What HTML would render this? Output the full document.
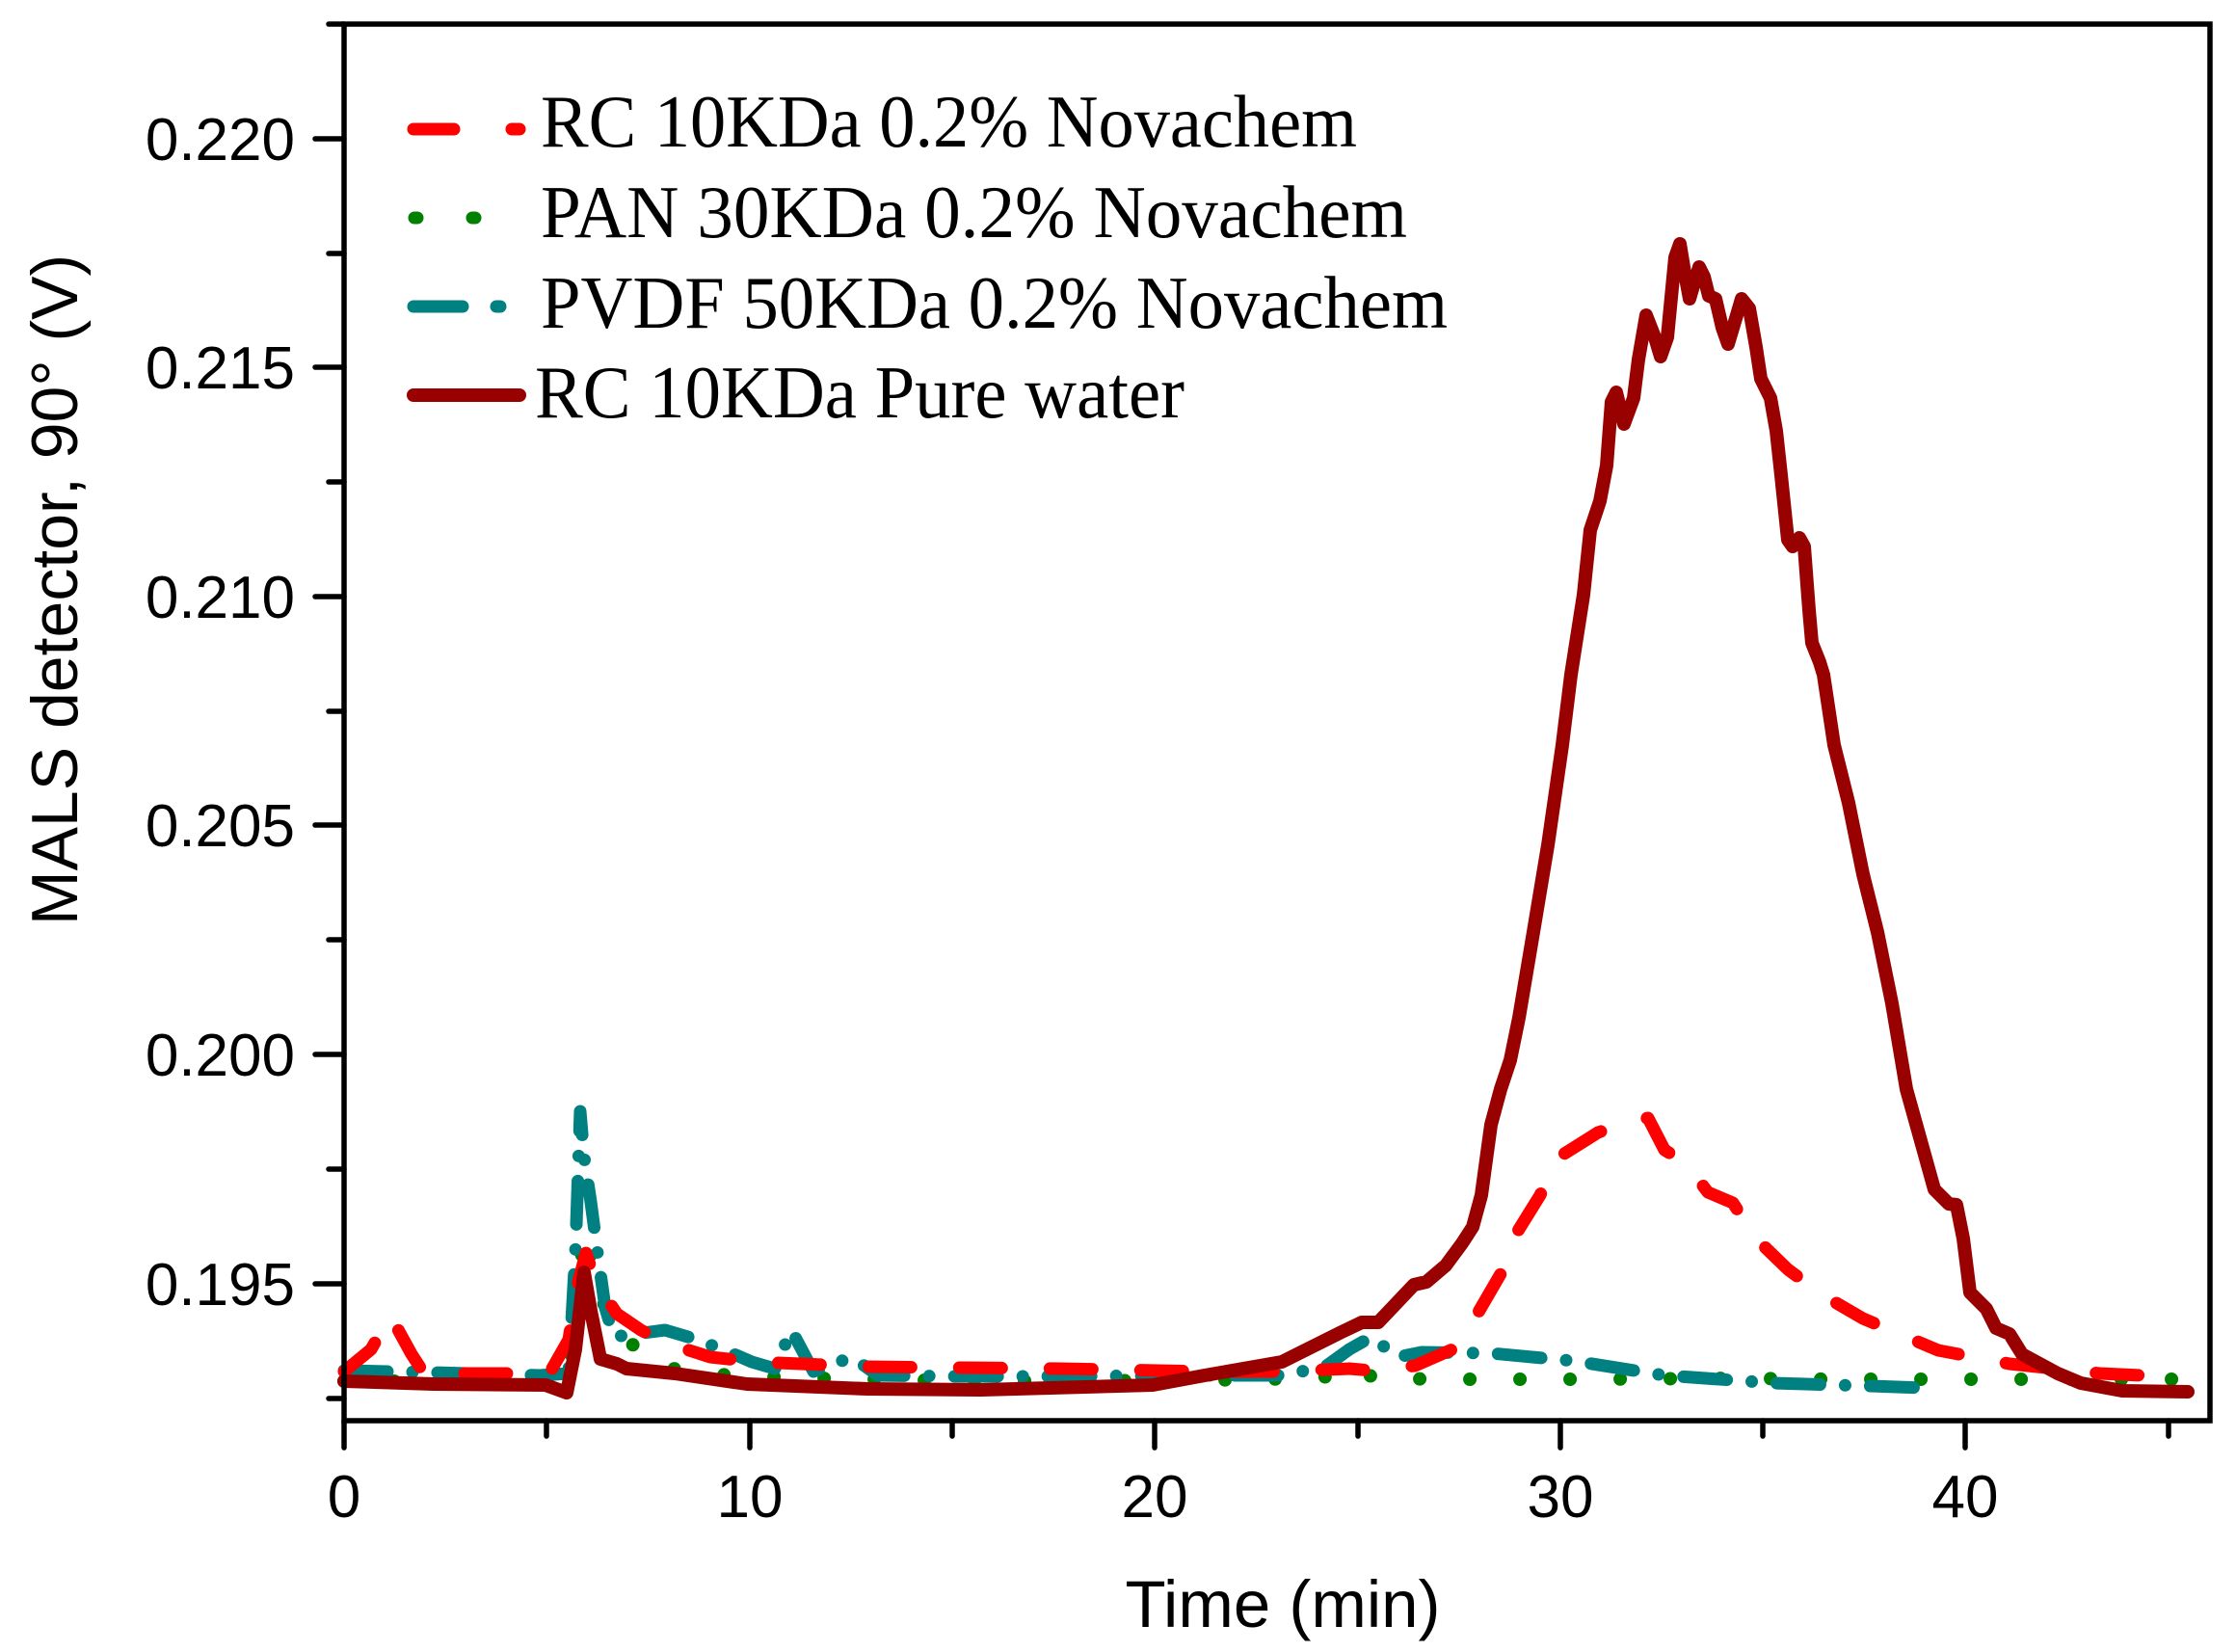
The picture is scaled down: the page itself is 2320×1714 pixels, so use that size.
<!DOCTYPE html>
<html><head><meta charset="utf-8"><style>
html,body{margin:0;padding:0;background:#fff;}
svg{display:block;}
</style></head><body>
<svg width="2320" height="1714" viewBox="0 0 2320 1714" xmlns="http://www.w3.org/2000/svg">
<rect width="2320" height="1714" fill="#fff"/>
<g fill="none" stroke-linecap="round" stroke-linejoin="round">
<!-- green PAN dotted -->
<polyline stroke="#008000" stroke-width="14" stroke-dasharray="0 52" points="357,1433 450,1433 560,1436 590,1432 600,1330 607,1277 615,1320 625,1350 638,1372 658,1397 672,1413 707,1422 767,1428 850,1430 950,1432 1100,1433 1250,1432 1370,1430 1410,1418 1425,1430 1500,1431 1650,1431 1800,1430 1900,1431 2000,1431 2150,1431 2270,1431"/>
<!-- teal PVDF dash-dot -->
<polyline stroke="#008080" stroke-width="13" stroke-dasharray="45 26 0 26" points="357,1422 450,1424 560,1427 590,1425 597,1300 602,1153 606,1200 613,1247 620,1300 628,1357 637,1387 667,1383 690,1380 717,1388 750,1400 780,1413 804,1420 821,1380 828,1393 844,1423 884,1408 911,1427 991,1428 1107,1428 1219,1427 1330,1427 1375,1418 1400,1400 1423,1387 1450,1408 1475,1403 1547,1404 1633,1412 1727,1427 1840,1435 1873,1436 1940,1438 1996,1440"/>
<!-- red RC dashed -->
<polyline stroke="#ff0000" stroke-width="13" stroke-dasharray="44 50" points="357,1423 385,1400 405,1365 427,1405 440,1425 500,1425 570,1425 590,1390 600,1330 608,1300 618,1330 640,1363 665,1380 690,1393 737,1408 783,1413 900,1418 1100,1420 1250,1423 1330,1423 1400,1420 1423,1422 1468,1417 1507,1400 1533,1363 1558,1320 1575,1277 1598,1240 1615,1202 1658,1175 1695,1162 1710,1160 1727,1193 1750,1208 1772,1237 1798,1248 1822,1285 1855,1317 1890,1343 1933,1368 2011,1401 2085,1415 2179,1425 2265,1429"/>
<!-- dark red pure water -->
<polyline stroke="#990000" stroke-width="14" points="357,1433 450,1436 566,1437 588,1445 597,1400 606,1320 613,1360 623,1410 640,1415 650,1420 700,1425 775,1436 900,1441 1018,1442 1196,1437 1250,1427 1330,1413 1390,1383 1413,1372 1430,1372 1467,1333 1480,1330 1500,1313 1517,1290 1528,1273 1537,1240 1547,1167 1557,1130 1567,1100 1576,1056 1591,967 1606,877 1621,773 1630,700 1643,617 1650,550 1660,520 1667,483 1672,417 1677,407 1685,440 1695,413 1700,373 1708,327 1717,350 1723,370 1730,350 1738,267 1743,253 1748,283 1753,310 1758,293 1763,277 1768,287 1773,307 1780,310 1787,340 1793,357 1802,327 1807,310 1815,320 1822,360 1827,393 1837,413 1843,447 1848,493 1855,560 1860,567 1867,558 1872,567 1877,633 1880,667 1888,687 1892,700 1903,773 1918,833 1933,907 1948,967 1963,1041 1978,1130 2007,1234 2022,1249 2030,1250 2037,1285 2044,1341 2061,1358 2071,1378 2085,1384 2098,1405 2135,1425 2159,1435 2202,1443 2270,1444"/>
</g>
<!-- axes frame -->
<rect x="357" y="25" width="1936" height="1449" fill="none" stroke="#000" stroke-width="5.5"/>
<g stroke="#000" stroke-width="5.5" stroke-linecap="round">
<line x1="327" y1="144" x2="357" y2="144"/><line x1="327" y1="381" x2="357" y2="381"/>
<line x1="327" y1="619" x2="357" y2="619"/><line x1="327" y1="856" x2="357" y2="856"/>
<line x1="327" y1="1094" x2="357" y2="1094"/><line x1="327" y1="1332" x2="357" y2="1332"/>
<line x1="341" y1="25" x2="357" y2="25"/><line x1="341" y1="263" x2="357" y2="263"/>
<line x1="341" y1="500" x2="357" y2="500"/><line x1="341" y1="738" x2="357" y2="738"/>
<line x1="341" y1="975" x2="357" y2="975"/><line x1="341" y1="1213" x2="357" y2="1213"/>
<line x1="341" y1="1451" x2="357" y2="1451"/>
<line x1="357" y1="1474" x2="357" y2="1502"/><line x1="778" y1="1474" x2="778" y2="1502"/>
<line x1="1198" y1="1474" x2="1198" y2="1502"/><line x1="1619" y1="1474" x2="1619" y2="1502"/>
<line x1="2039" y1="1474" x2="2039" y2="1502"/>
<line x1="567" y1="1474" x2="567" y2="1490"/><line x1="988" y1="1474" x2="988" y2="1490"/>
<line x1="1409" y1="1474" x2="1409" y2="1490"/><line x1="1829" y1="1474" x2="1829" y2="1490"/>
<line x1="2250" y1="1474" x2="2250" y2="1490"/>
</g>
<g font-family="'Liberation Sans', Arial, sans-serif" font-size="62" fill="#000">
<g text-anchor="end">
<text x="306" y="166">0.220</text><text x="306" y="403">0.215</text>
<text x="306" y="641">0.210</text><text x="306" y="878">0.205</text>
<text x="306" y="1116">0.200</text><text x="306" y="1354">0.195</text>
</g>
<g text-anchor="middle">
<text x="357" y="1574">0</text><text x="778" y="1574">10</text>
<text x="1198" y="1574">20</text><text x="1619" y="1574">30</text>
<text x="2039" y="1574">40</text>
</g>
<text x="1331" y="1688" text-anchor="middle" font-size="69">Time (min)</text>
<text transform="translate(80,612) rotate(-90)" text-anchor="middle" font-size="68">MALS detector, 90° (V)</text>
</g>
<!-- legend -->
<g stroke-linecap="round" stroke-width="13">
<line x1="429" y1="134" x2="471" y2="134" stroke="#ff0000"/>
<line x1="531" y1="134" x2="539" y2="134" stroke="#ff0000"/>
<line x1="430" y1="226" x2="433" y2="226" stroke="#008000"/>
<line x1="490" y1="226" x2="493" y2="226" stroke="#008000"/>
<line x1="429" y1="318" x2="480" y2="318" stroke="#008080"/>
<line x1="515" y1="318" x2="519" y2="318" stroke="#008080"/>
<line x1="429" y1="410" x2="539" y2="410" stroke="#990000" stroke-width="14"/>
</g>
<g font-family="'Liberation Serif', 'Times New Roman', serif" font-size="77" fill="#000">
<text x="561" y="152" textLength="847" lengthAdjust="spacingAndGlyphs">RC 10KDa 0.2% Novachem</text>
<text x="561" y="246" textLength="899" lengthAdjust="spacingAndGlyphs">PAN 30KDa 0.2% Novachem</text>
<text x="561" y="340" textLength="941" lengthAdjust="spacingAndGlyphs">PVDF 50KDa 0.2% Novachem</text>
<text x="555" y="433" textLength="674" lengthAdjust="spacingAndGlyphs">RC 10KDa Pure water</text>
</g>
</svg>
</body></html>
